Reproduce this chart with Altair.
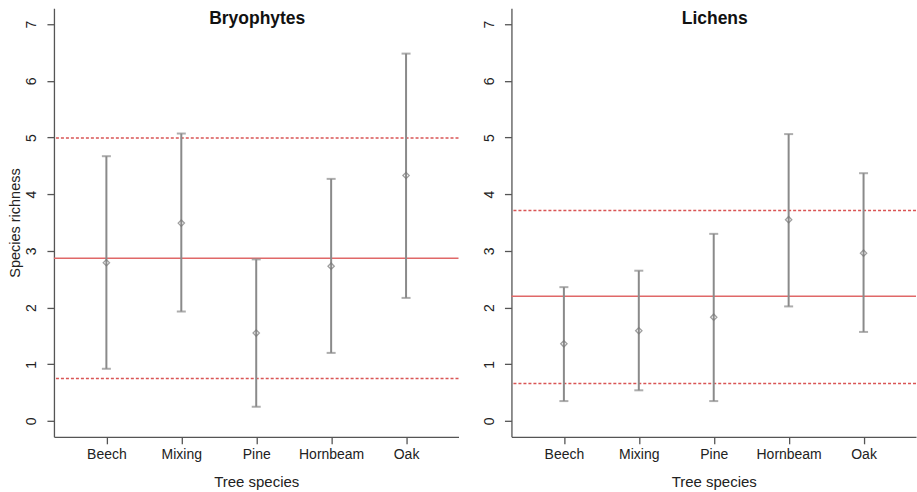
import altair as alt
import pandas as pd

# Tree species on the x axis
species = ["Beech", "Mixing", "Pine", "Hornbeam", "Oak"]

# Bryophytes: mean species richness with lower/upper interval bounds
bryo_mean = [2.79, 3.49, 1.55, 2.73, 4.33]
bryo_low = [0.92, 1.93, 0.25, 1.20, 2.17]
bryo_high = [4.67, 5.07, 2.85, 4.27, 6.48]
bryo_ref = [2.87]          # overall mean (solid line)
bryo_band = [0.75, 4.99]   # overall interval (dashed lines)

# Lichens
lich_mean = [1.36, 1.59, 1.83, 3.55, 2.96]
lich_low = [0.35, 0.54, 0.35, 2.02, 1.57]
lich_high = [2.36, 2.65, 3.30, 5.06, 4.37]
lich_ref = [2.20]
lich_band = [0.66, 3.71]

y_ticks = [0, 1, 2, 3, 4, 5, 6, 7]

W, H = 405, 429
FONT = "Liberation Sans"
BAR = "#8a8a8a"
RED = "#e06868"


def panel(title, mean, low, high, ref, band, show_ytitle):
    df = pd.DataFrame({"species": species, "mean": mean, "low": low, "high": high})
    refs = pd.DataFrame({"v": ref})
    bands = pd.DataFrame({"v": band})

    x = alt.X(
        "species:N",
        sort=species,
        scale=alt.Scale(type="point", padding=0.7),
        axis=alt.Axis(
            title="Tree species",
            labelAngle=0,
            labelPadding=4,
            labelFontSize=14,
            labelBaseline="top",
            titleFontSize=15,
            titleFontWeight="normal",
            titleY=45,
            titleBaseline="middle",
            tickSize=7,
        ),
    )
    yscale = alt.Scale(domain=[-0.28, 7.28], nice=False, zero=False)
    yaxis = alt.Axis(
        values=y_ticks,
        format="d",
        title="Species richness" if show_ytitle else None,
        labelAngle=270,
        labelAlign="center",
        labelBaseline="bottom",
        labelPadding=8,
        labelFontSize=14,
        titleFontSize=14.5,
        titleFontWeight="normal",
        titleX=-38,
        titleY=H / 2,
        titleAngle=270,
        titleBaseline="middle",
        titleAlign="center",
        tickSize=7,
        grid=False,
    )

    base = alt.Chart(df)
    bars = base.mark_rule(color=BAR, strokeWidth=2).encode(
        x=x, y=alt.Y("low:Q", scale=yscale, axis=yaxis), y2="high:Q"
    )
    cap_lo = base.mark_tick(color=BAR, thickness=2, size=9, orient="horizontal").encode(
        x=x, y=alt.Y("low:Q", scale=yscale, axis=yaxis)
    )
    cap_hi = base.mark_tick(color=BAR, thickness=2, size=9, orient="horizontal").encode(
        x=x, y=alt.Y("high:Q", scale=yscale, axis=yaxis)
    )
    pts = base.mark_point(
        shape="diamond", filled=False, color="#777777", size=40, strokeWidth=1.3
    ).encode(x=x, y=alt.Y("mean:Q", scale=yscale, axis=yaxis))

    solid = alt.Chart(refs).mark_rule(color=RED, strokeWidth=1.5).encode(
        y=alt.Y("v:Q", scale=yscale, axis=yaxis)
    )
    dashed = alt.Chart(bands).mark_rule(
        color="#d95555", strokeWidth=1.5, strokeDash=[3, 2]
    ).encode(y=alt.Y("v:Q", scale=yscale, axis=yaxis))

    head = alt.Chart(pd.DataFrame({"t": [title]})).mark_text(
        font=FONT, fontSize=17.5, fontWeight="bold", color="#111111", baseline="middle"
    ).encode(text="t:N", x=alt.value(W / 2 + 1), y=alt.value(11))

    return alt.layer(solid, dashed, bars, cap_lo, cap_hi, pts, head).properties(
        width=W, height=H
    )


left = panel("Bryophytes", bryo_mean, bryo_low, bryo_high, bryo_ref, bryo_band, True)
right = panel("Lichens", lich_mean, lich_low, lich_high, lich_ref, lich_band, False)

chart = (
    alt.hconcat(left, right, spacing=53, bounds="flush")
    .properties(padding={"left": 8, "top": 8, "right": 0, "bottom": 0})
    .configure(font=FONT, background="white")
    .configure_view(stroke=None)
    .configure_axis(
        domainColor="#555555",
        domainWidth=1.3,
        tickColor="#555555",
        tickWidth=1.3,
        labelColor="#222222",
        titleColor="#222222",
        labelFont=FONT,
        titleFont=FONT,
    )
)

chart.save("out.html", embed_options={"renderer": "svg", "actions": False})
